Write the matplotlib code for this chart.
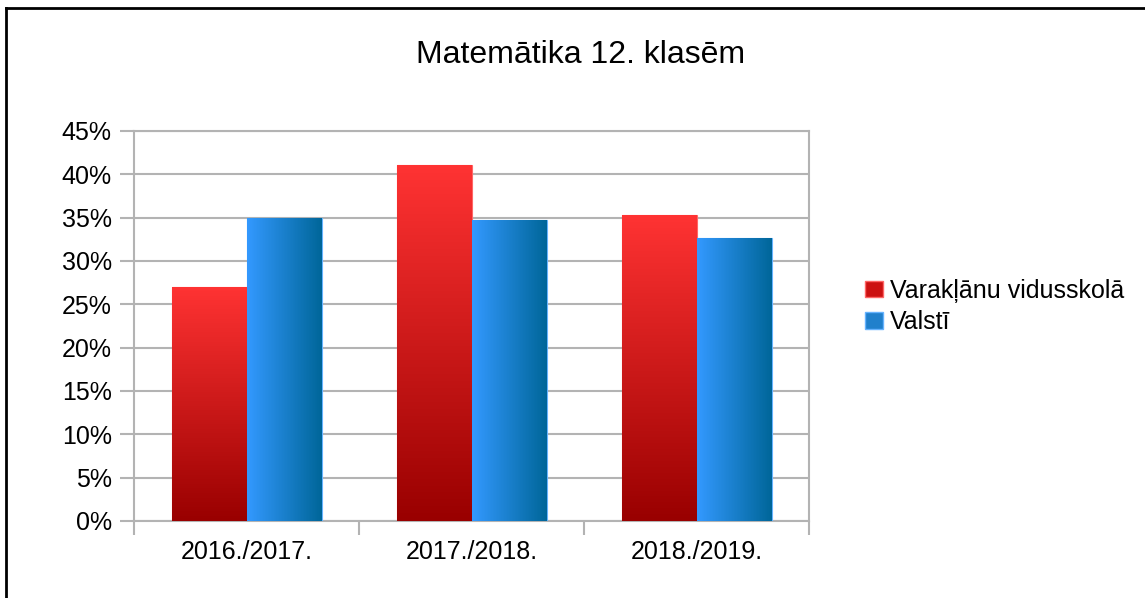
import numpy as np
import matplotlib
matplotlib.use('Agg')
import matplotlib.pyplot as plt
import matplotlib.ticker as ticker
from matplotlib.colors import LinearSegmentedColormap
from matplotlib.lines import Line2D
from matplotlib.patches import Patch

plt.rcParams['font.family'] = ['Liberation Sans', 'DejaVu Sans']

years = ['2016./2017.', '2017./2018.', '2018./2019.']
school = [27.0, 41.05, 35.3]
country = [35.0, 34.7, 32.7]
series_names = ['Varakļānu vidusskolā', 'Valstī']

red_cmap = LinearSegmentedColormap.from_list('r', ['#990000', '#ff3333'])
blue_cmap = LinearSegmentedColormap.from_list('b', ['#3399ff', '#006699'])

fig = plt.figure(figsize=(11.45, 5.98), dpi=100)
ax = fig.add_axes([134/1145, 1 - 521/598, (809 - 134)/1145, (521 - 131)/598])

x = np.arange(len(years))
w = 1/3
red_bars = ax.bar(x - w/2, school, w, facecolor='none', edgecolor='none', zorder=3)
blue_bars = ax.bar(x + w/2, country, w, facecolor='none', edgecolor='none', zorder=3)

vert = np.linspace(0, 1, 256).reshape(-1, 1)
horiz = np.linspace(0, 1, 256).reshape(1, -1)

def fill_gradient(bars, grad, cmap, edge):
    for b in bars:
        x0, y0 = b.get_x(), b.get_y()
        x1, y1 = x0 + b.get_width(), y0 + b.get_height()
        im = ax.imshow(grad, cmap=cmap, extent=[x0, x1, y0, y1], origin='lower',
                       aspect='auto', zorder=3, interpolation='bilinear')
        im.set_clip_path(b)
        b.set_edgecolor(edge)
        b.set_linewidth(0.8)

fill_gradient(red_bars, vert, red_cmap, '#ff6666')
fill_gradient(blue_bars, horiz, blue_cmap, '#66b3ff')

ax.set_xlim(-0.5, 2.5)
ax.set_ylim(0, 45)
ax.yaxis.set_major_locator(ticker.MultipleLocator(5))
ax.yaxis.set_major_formatter(ticker.FuncFormatter(lambda v, p: f'{v:.0f}%'))
ax.set_xticks(x)
ax.set_xticklabels(years)
ax.set_xticks([-0.5, 0.5, 1.5, 2.5], minor=True)
ax.tick_params(axis='x', which='major', length=0, pad=14, labelsize=18)
ax.tick_params(axis='x', which='minor', length=10, width=1.5, color='#b3b3b3')
ax.tick_params(axis='y', length=10, width=1.5, color='#b3b3b3', labelsize=18, pad=6)
ax.grid(axis='y', color='#b3b3b3', linewidth=1.5, zorder=0)
ax.set_axisbelow(True)
for s in ax.spines.values():
    s.set_color('#b3b3b3')
    s.set_linewidth(1.5)

fig.text(0.507, 0.908, 'Matemātika 12. klasēm', ha='center', va='center', fontsize=23)

handles = [Patch(facecolor='#cc1111', edgecolor='#ff6666'),
           Patch(facecolor='#2080cc', edgecolor='#66b3ff')]
fig.legend(handles, series_names, loc='center left', bbox_to_anchor=(0.736, 0.4875),
           frameon=False, fontsize=18, handlelength=0.7, handleheight=0.65,
           handletextpad=0.3, labelspacing=0.3)

# frame of the screenshot
fig.add_artist(Line2D([6/1145, 6/1145], [0, 1 - 8/598], color='black', linewidth=2,
                      transform=fig.transFigure))
fig.add_artist(Line2D([6/1145, 1], [1 - 8/598, 1 - 8/598], color='black', linewidth=2,
                      transform=fig.transFigure))

fig.savefig('out.png', dpi=100)
